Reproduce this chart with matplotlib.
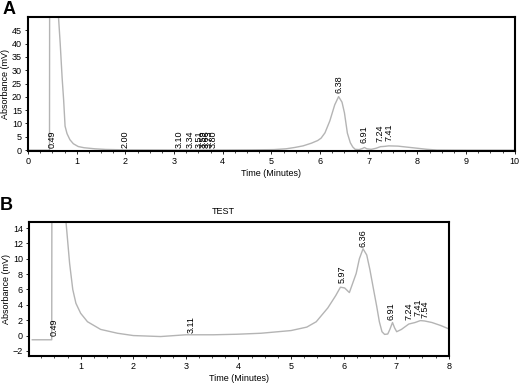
import matplotlib
matplotlib.use('Agg')
from matplotlib import pyplot as plt
from matplotlib.ticker import MultipleLocator

plt.rcParams['font.family'] = ['Liberation Sans', 'DejaVu Sans']

# panel A trace
time_a = [0.00, 0.44, 0.45, 0.61, 0.625, 0.66, 0.70, 0.73, 0.76, 0.80, 0.86, 0.93, 1.03, 1.15,
          1.37, 1.60, 2.00, 3.00, 4.00, 4.60, 5.05, 5.30, 5.48, 5.65, 5.82, 5.95, 6.02, 6.10,
          6.20, 6.30, 6.38, 6.45, 6.50, 6.56, 6.62, 6.67, 6.72, 6.80, 6.87, 6.91, 6.96, 7.05,
          7.15, 7.24, 7.32, 7.41, 7.60, 7.80, 8.00, 8.20, 8.40, 9.00, 10.0]
abs_a = [0.0, 0.0, 200, 200, 50, 40, 27, 19, 9.0, 6.2, 3.9, 2.4, 1.35, 0.9,
         0.5, 0.25, 0.1, 0.05, 0.05, 0.1, 0.2, 0.5, 1.0, 1.6, 2.6, 3.6, 4.5, 6.5,
         11, 17, 20.1, 18, 14, 6.4, 2.8, 1.2, 0.3, 0.2, 0.6, 1.0, 0.5, 0.3,
         0.7, 1.3, 1.4, 1.6, 1.5, 1.1, 0.7, 0.3, 0.05, 0.0, 0.0]
peaks_a = ['0.49', '2.00', '3.10', '3.34', '3.51', '3.59', '3.66', '3.73', '3.80',
           '6.38', '6.91', '7.24', '7.41']
peak_y_a = [0.8, 0.8, 0.8, 0.8, 0.8, 0.8, 0.8, 0.8, 0.8, 21.4, 2.6, 3.0, 3.5]

# panel B trace
time_b = [0.08, 0.45, 0.455, 0.70, 0.72, 0.79, 0.85, 0.91, 1.00, 1.13, 1.38, 1.70, 2.00,
          2.52, 3.00, 3.52, 3.97, 4.43, 5.00, 5.30, 5.48, 5.70, 5.85, 5.94, 6.02, 6.11,
          6.24, 6.30, 6.37, 6.44, 6.50, 6.57, 6.63, 6.68, 6.73, 6.78, 6.84, 6.88, 6.93,
          6.97, 7.01, 7.10, 7.20, 7.24, 7.30, 7.36, 7.46, 7.54, 7.68, 7.85, 8.00]
abs_b = [-0.55, -0.55, 30, 30, 14.9, 9.4, 6.0, 4.2, 2.9, 1.8, 0.8, 0.3, 0.0,
         -0.13, 0.1, 0.1, 0.17, 0.3, 0.65, 1.1, 1.8, 3.6, 5.2, 6.3, 6.2, 5.6,
         8.1, 10.0, 11.3, 10.5, 8.6, 6.0, 3.8, 1.8, 0.5, 0.15, 0.2, 0.8, 1.7,
         1.0, 0.5, 0.8, 1.3, 1.5, 1.6, 1.7, 1.95, 1.9, 1.7, 1.3, 0.87]
peaks_b = ['0.49', '3.11', '5.97', '6.36', '6.91', '7.24', '7.41', '7.54']
peak_y_b = [0.0, 0.3, 6.8, 11.6, 2.0, 2.0, 2.5, 2.3]

trace_col = '#b4b4b4'
fs = 6.5


def style_axes(ax):
    for s in ax.spines.values():
        s.set_linewidth(1.5)
    ax.tick_params(labelsize=fs, length=2.5, width=0.6, pad=2)
    ax.tick_params(which='minor', length=1.5, width=0.5)
    ax.set_xlabel('Time (Minutes)', fontsize=fs, labelpad=2)
    ax.set_ylabel('Absorbance (mV)', fontsize=fs, labelpad=1)


fig = plt.figure(figsize=(5.2, 3.86), dpi=100)

"""A"""
ax1 = fig.add_axes([0.054, 0.609, 0.936, 0.347])
ax1.plot(time_a, abs_a, color=trace_col, lw=1)
for lab, yy in zip(peaks_a, peak_y_a):
    ax1.text(float(lab), yy, lab, rotation=90, ha='center', va='bottom', fontsize=fs)
ax1.set_xlim(0, 10)
ax1.set_ylim(-0.3, 50)
ax1.set_xticks(range(0, 11))
ax1.set_yticks(range(0, 50, 5))
ax1.xaxis.set_minor_locator(MultipleLocator(0.25))
style_axes(ax1)

"""B"""
ax2 = fig.add_axes([0.056, 0.078, 0.807, 0.347])
ax2.plot(time_b, abs_b, color=trace_col, lw=1)
for lab, yy in zip(peaks_b, peak_y_b):
    ax2.text(float(lab), yy, lab, rotation=90, ha='center', va='bottom', fontsize=fs)
ax2.set_xlim(0.02, 8)
ax2.set_ylim(-2.65, 14.8)
ax2.set_xticks(range(1, 9))
ax2.set_yticks(range(-2, 15, 2))
ax2.xaxis.set_minor_locator(MultipleLocator(0.25))
style_axes(ax2)

fig.text(0.429, 0.453, 'TEST', fontsize=fs, ha='center', va='center')
fig.text(0.004, 0.998, 'A', fontsize=13, weight='bold', ha='left', va='top')
fig.text(0.0, 0.49, 'B', fontsize=13, weight='bold', ha='left', va='top')

plt.savefig('out.png', dpi=100)
